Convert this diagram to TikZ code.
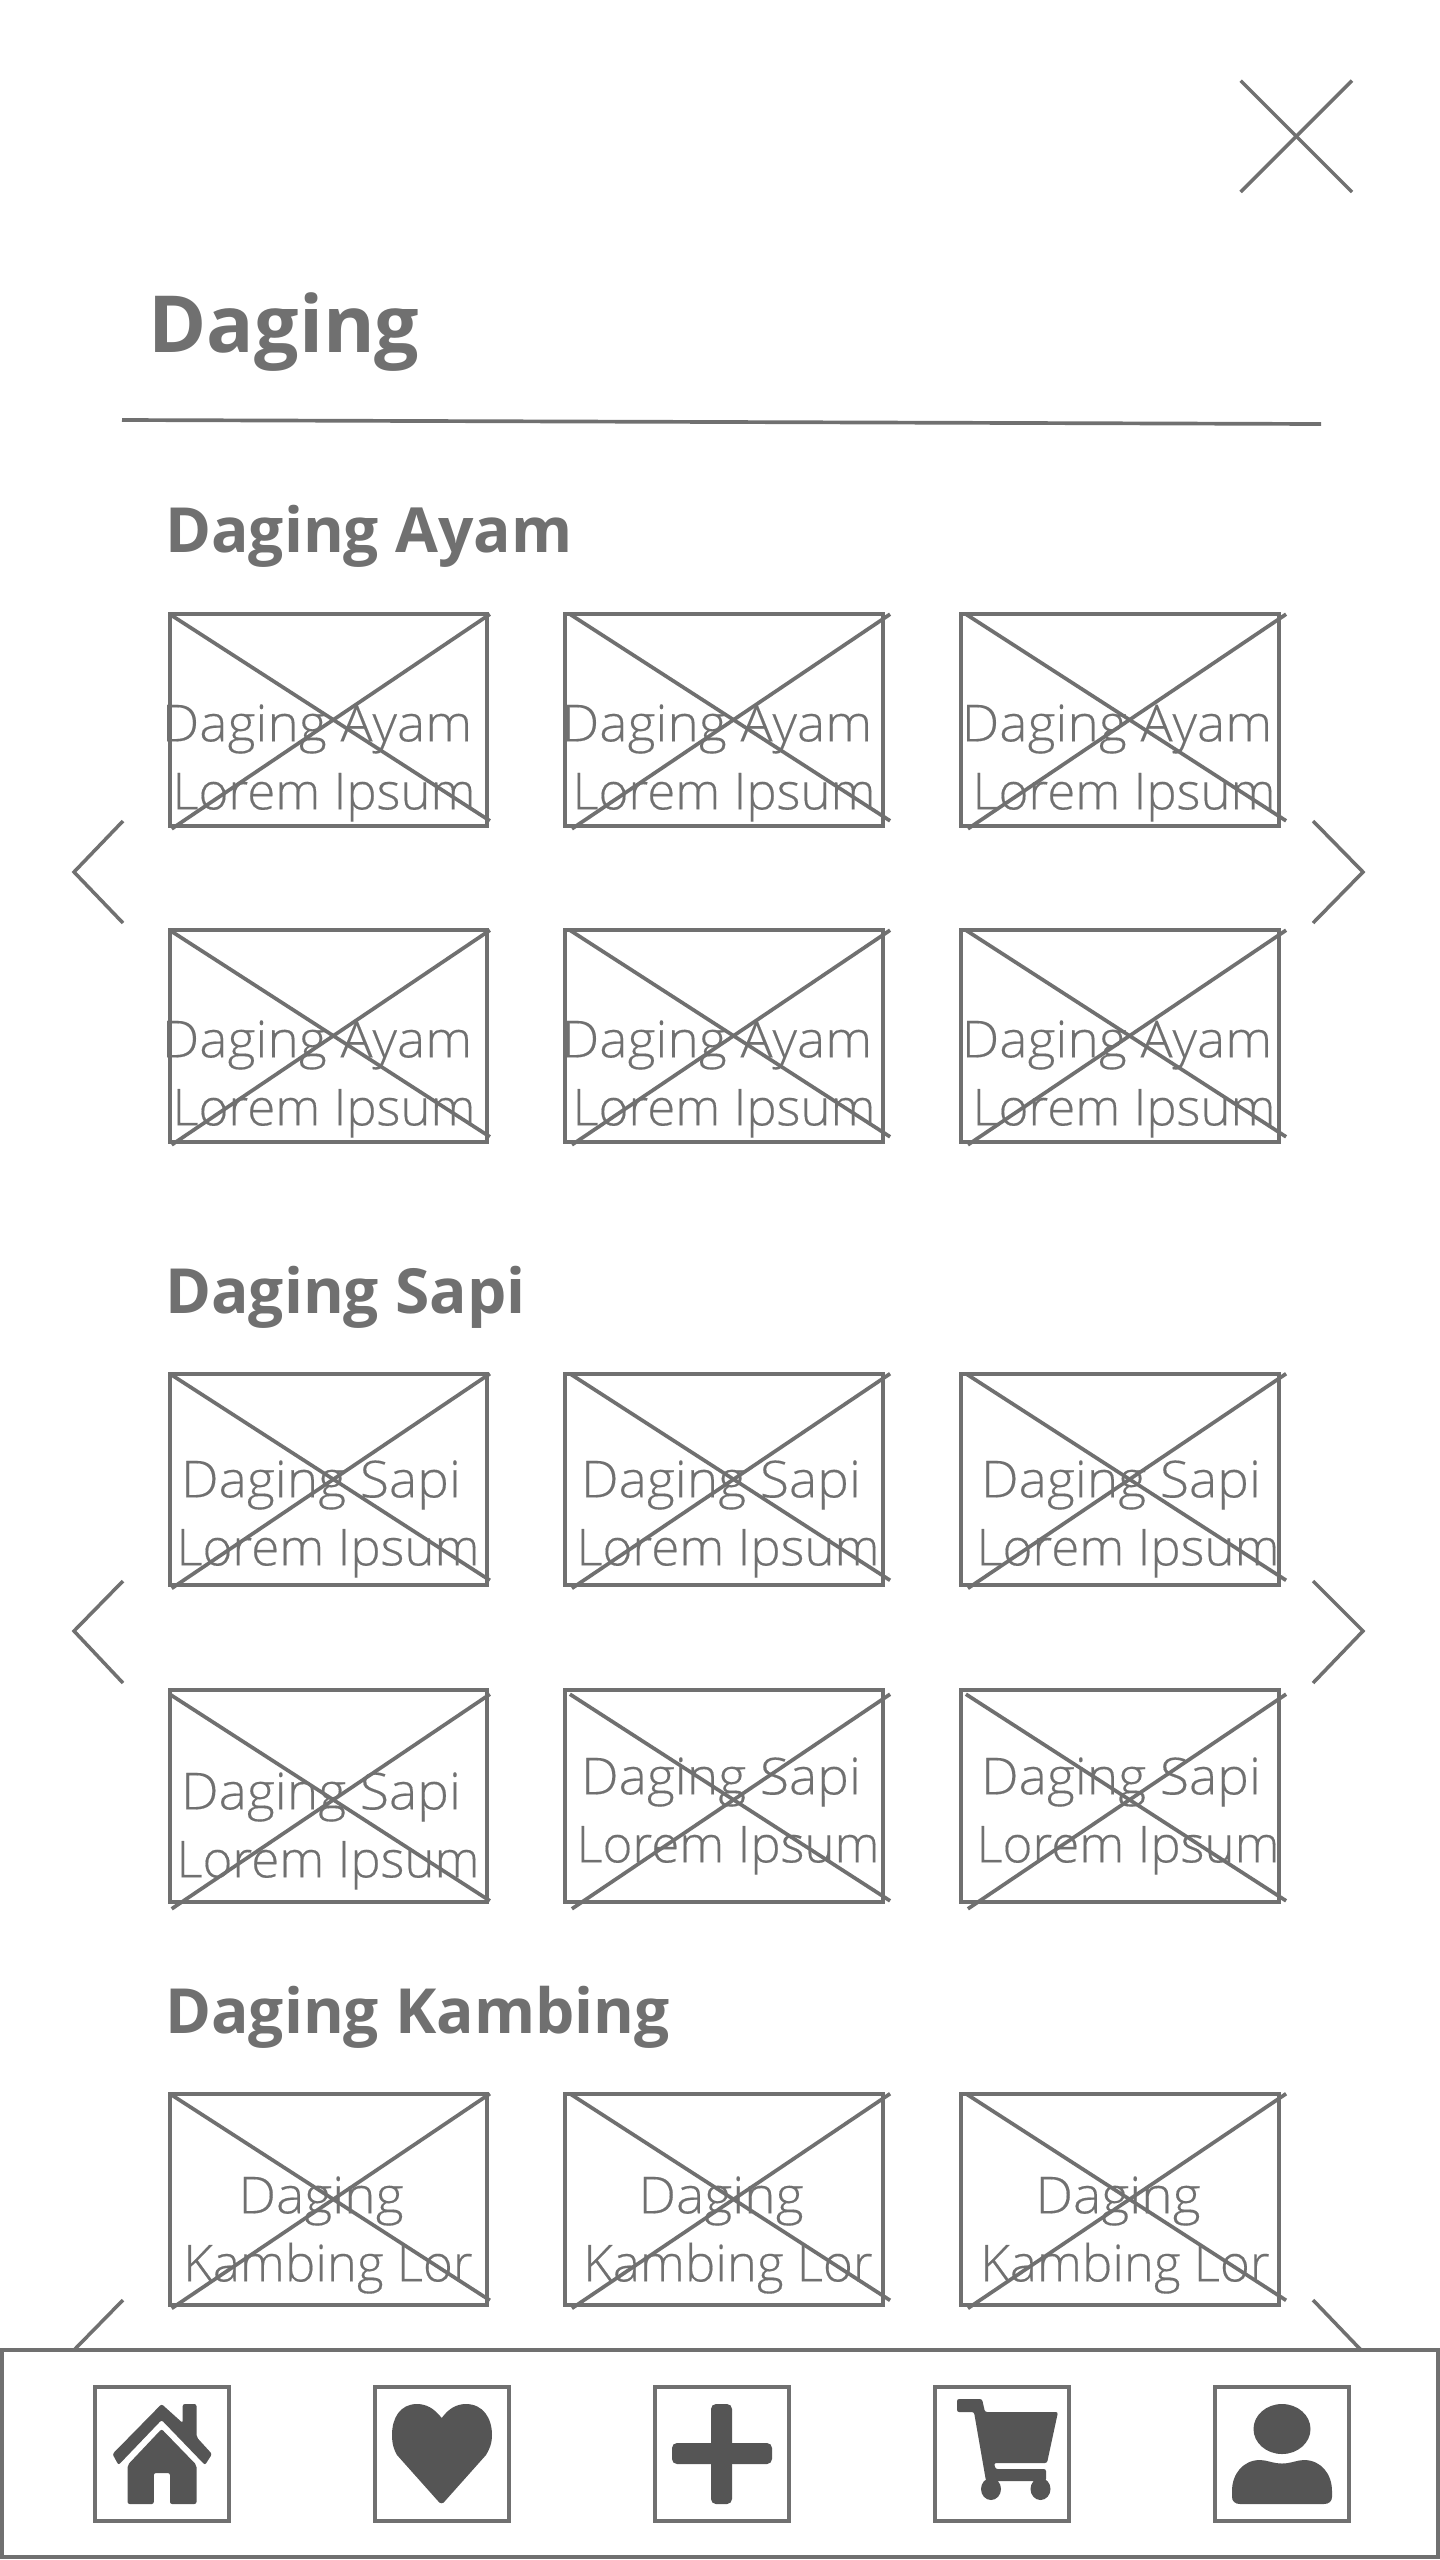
\documentclass[tikz,border=0pt]{standalone}
\usepackage{fontspec}
\setmainfont{Open Sans}
\newfontfamily\thumbfont[FakeBold=0.3]{Open Sans Light}
\newfontfamily\dagingfont[FakeBold=0.3,FakeStretch=1.045]{Open Sans Light}
\usetikzlibrary{positioning}
\definecolor{wire}{HTML}{707070}
\definecolor{glyph}{HTML}{555555}
\tikzset{
  thumb/.style={draw=wire, line width=1.1pt, fill=white, outer sep=0pt, minimum width=3.17cm, minimum height=2.115cm},
  thumbtext/.style={text=wire, inner sep=0pt, align=center, font=\fontsize{14.5}{19.35}\selectfont\thumbfont},
  wireline/.style={draw=wire, line width=1.05pt},
  chevron/.style={draw=wire, line width=1pt},
  headline/.style={text=wire, inner sep=0pt, anchor=base west, font=\fontsize{22.4}{26}\selectfont\bfseries},
  sectionhead/.style={text=wire, inner sep=0pt, anchor=base west, font=\fontsize{17.7}{22}\selectfont\bfseries},
  navbar/.style={draw=wire, line width=1.1pt, fill=white, outer sep=0pt, minimum width=14.35cm, minimum height=2.07cm},
  navbox/.style={draw=wire, line width=1.1pt, fill=white, outer sep=0pt, minimum width=1.34cm, minimum height=1.34cm},
  navglyph/.style={fill=glyph, rounded corners=.6pt}
}
\newcommand{\thumbcross}[3]{%
  \draw[wireline] ([shift={(#2,#3)}]#1.north west) -- ([shift={(3+#2,-5+#3)}]#1.south east);
  \draw[wireline] ([shift={(2+#2,3+#3)}]#1.south west) -- ([shift={(3+#2,#3)}]#1.north east);
}
\newcommand{\ayamtext}{{\dagingfont Daging Ayam}\hspace*{.14cm}\null\\Lorem Ipsum}
\newcommand{\sapitext}{{\dagingfont Daging Sapi}\hspace*{.14cm}\null\\Lorem Ipsum}
\newcommand{\kambingtext}{{\dagingfont Daging}\hspace*{.14cm}\null\\Kambing Lor}
\begin{document}
\begin{tikzpicture}[x=0.01cm, y=-0.01cm]
  \useasboundingbox (0,0) rectangle (1440,2560);
  \draw[chevron] (1240.7,80.7) -- (1352,192);
  \draw[chevron] (1352,80.7) -- (1240.7,192);
  \node[headline] (title) at (148,352) {Daging};
  \draw[wireline] (122,420) -- (1321,424);

  \node[sectionhead] (headayam) at (164.5,552) {Daging Ayam};
  \node[thumb] (ayam1) at (328.3,720) {};
  \node[thumb] (ayam2) at (724,720) {};
  \node[thumb] (ayam3) at (1120,720) {};
  \node[thumb] (ayam4) at (328.3,1036) {};
  \node[thumb] (ayam5) at (724,1036) {};
  \node[thumb] (ayam6) at (1120,1036) {};
  \thumbcross{ayam1}{0}{0} \thumbcross{ayam2}{4.5}{0} \thumbcross{ayam3}{4.5}{0}
  \thumbcross{ayam4}{0}{0} \thumbcross{ayam5}{4.5}{0} \thumbcross{ayam6}{4.5}{0}
  \node[thumbtext] (ayamtext1) at (324,763) {\ayamtext};
  \node[thumbtext] (ayamtext2) at (724,763) {\ayamtext};
  \node[thumbtext] (ayamtext3) at (1124,763) {\ayamtext};
  \node[thumbtext] (ayamtext4) at (324,1079) {\ayamtext};
  \node[thumbtext] (ayamtext5) at (724,1079) {\ayamtext};
  \node[thumbtext] (ayamtext6) at (1124,1079) {\ayamtext};
  \draw[chevron] (123,821) -- (74,872) -- (123,923);
  \draw[chevron] (1313,821) -- (1363,872) -- (1313,923);

  \node[sectionhead] (headsapi) at (164.5,1313) {Daging Sapi};
  \node[thumb] (sapi1) at (328.3,1479.5) {};
  \node[thumb] (sapi2) at (724,1479.5) {};
  \node[thumb] (sapi3) at (1120,1479.5) {};
  \node[thumb] (sapi4) at (328.3,1796) {};
  \node[thumb] (sapi5) at (724,1796) {};
  \node[thumb] (sapi6) at (1120,1796) {};
  \thumbcross{sapi1}{0}{0} \thumbcross{sapi2}{4.5}{0} \thumbcross{sapi3}{4.5}{0}
  \thumbcross{sapi4}{0}{4} \thumbcross{sapi5}{4.5}{4} \thumbcross{sapi6}{4.5}{4}
  \node[thumbtext] (sapitext1) at (328,1519) {\sapitext};
  \node[thumbtext] (sapitext2) at (728,1519) {\sapitext};
  \node[thumbtext] (sapitext3) at (1128,1519) {\sapitext};
  \node[thumbtext] (sapitext4) at (328,1831) {\sapitext};
  \node[thumbtext] (sapitext5) at (728,1816) {\sapitext};
  \node[thumbtext] (sapitext6) at (1128,1816) {\sapitext};
  \draw[chevron] (123,1581) -- (74,1631) -- (123,1683);
  \draw[chevron] (1313,1581) -- (1363,1631) -- (1313,1683);

  \node[sectionhead] (headkambing) at (164.5,2033) {Daging Kambing};
  \node[thumb] (kambing1) at (328.3,2199.5) {};
  \node[thumb] (kambing2) at (724,2199.5) {};
  \node[thumb] (kambing3) at (1120,2199.5) {};
  \thumbcross{kambing1}{0}{0} \thumbcross{kambing2}{4.5}{0} \thumbcross{kambing3}{4.5}{0}
  \node[thumbtext] (kambingtext1) at (328,2235) {\kambingtext};
  \node[thumbtext] (kambingtext2) at (728,2235) {\kambingtext};
  \node[thumbtext] (kambingtext3) at (1125,2235) {\kambingtext};
  \draw[chevron] (123,2300) -- (74,2350);
  \draw[chevron] (1313,2300) -- (1361,2350);

  \node[navbar] (bar) at (720,2453.5) {};
  \node[navbox] (home) at (162,2454) {};
  \node[navbox] (favourite) at (442,2454) {};
  \node[navbox] (add) at (722,2454) {};
  \node[navbox] (cart) at (1002,2454) {};
  \node[navbox] (user) at (1282,2454) {};

  \fill[navglyph] (161.6,2404) -- (182.7,2423) -- (182.7,2404) -- (196.5,2404) -- (196.5,2437) -- (212,2454) -- (205,2465) -- (161.6,2420) -- (118.5,2465) -- (112.5,2454) -- cycle;
  \fill[navglyph] (161.6,2429) -- (196.5,2465) -- (196.5,2504) -- (170,2504) -- (170,2473) -- (153.8,2473) -- (153.8,2504) -- (127.6,2504) -- (127.6,2465) -- cycle;
  \fill[fill=glyph] (441.7,2418) .. controls (434,2408) and (426,2404) .. (417,2404) .. controls (400,2404) and (392,2418) .. (392,2435) .. controls (392,2444) and (394,2450) .. (397,2455) -- (438,2501) .. controls (440,2504) and (443,2504) .. (445,2501) -- (486,2455) .. controls (489,2450) and (492,2444) .. (492,2435) .. controls (492,2418) and (483,2404) .. (466,2404) .. controls (457,2404) and (449,2408) .. (441.7,2418) -- cycle;
  \fill[navglyph, rounded corners=1.4pt] (711,2404) rectangle (732,2504);
  \fill[navglyph, rounded corners=1.4pt] (672,2443) rectangle (772,2464);
  \fill[navglyph] (957,2399) -- (982,2399) -- (985,2412) -- (1058,2412) -- (1047,2463) -- (994,2463) -- (995.5,2469) -- (1046,2469) -- (1046,2481) -- (997,2481) -- (986,2481) -- (974,2412) -- (957,2412) -- cycle;
  \fill[fill=glyph] (991,2489) ellipse (10 and 11);
  \fill[fill=glyph] (1040.5,2489) ellipse (10 and 11);
  \fill[fill=glyph] (1282,2429) ellipse (28.5 and 25);
  \fill[fill=glyph] (1282,2463.5) .. controls (1273,2463.5) and (1267,2460) .. (1260,2460) .. controls (1243,2460) and (1232,2474) .. (1232,2491) -- (1232,2497) .. controls (1232,2501) and (1235,2504) .. (1240,2504) -- (1324,2504) .. controls (1329,2504) and (1332,2501) .. (1332,2497) -- (1332,2491) .. controls (1332,2474) and (1321,2460) .. (1304,2460) .. controls (1297,2460) and (1291,2463.5) .. (1282,2463.5) -- cycle;
\end{tikzpicture}
\end{document}
